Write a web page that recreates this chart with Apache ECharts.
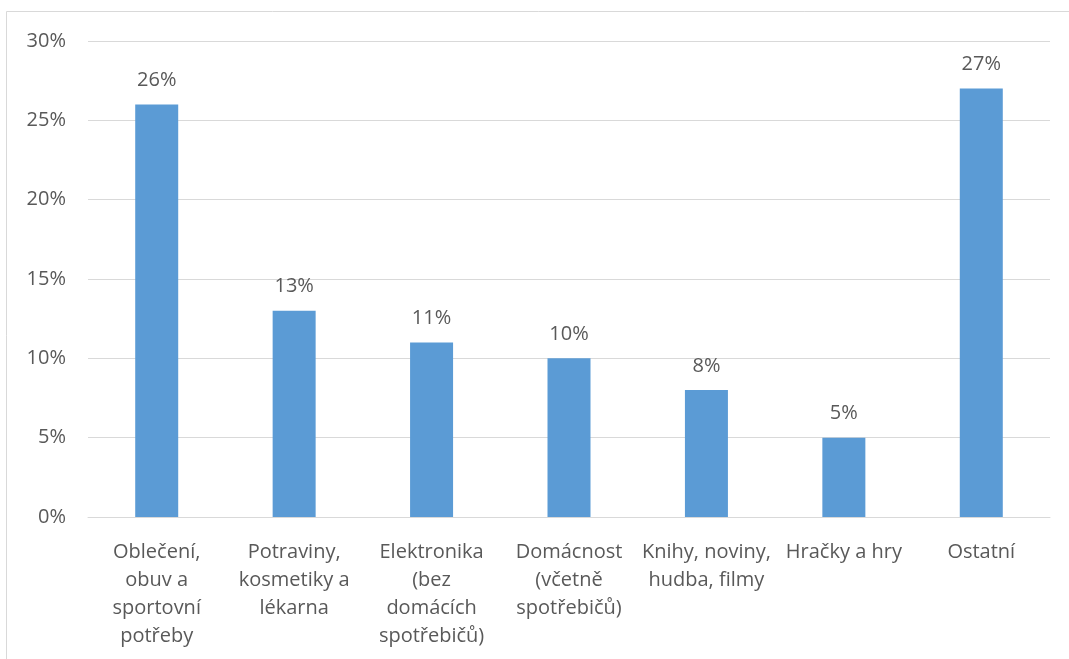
<!DOCTYPE html>
<html>
<head>
<meta charset="utf-8">
<script src="https://cdn.jsdelivr.net/npm/echarts@6/dist/echarts.min.js"></script>
<style>
  html, body { margin: 0; padding: 0; background: #fff; }
  #chart { width: 1069px; height: 659px; }
</style>
</head>
<body>
<div id="chart"></div>
<script>
// Shopping categories (line breaks as drawn under each bar)
const categories = [
  'Oblečení,\nobuv a\nsportovní\npotřeby',
  'Potraviny,\nkosmetiky a\nlékarna',
  'Elektronika\n(bez\ndomácích\nspotřebičů)',
  'Domácnost\n(včetně\nspotřebičů)',
  'Knihy, noviny,\nhudba, filmy',
  'Hračky a hry',
  'Ostatní'
];
// Share of purchases, percent
const shares = [26, 13, 11, 10, 8, 5, 27];

const textColor = '#595959';
const fontFamily = '"Open Sans", "Noto Sans", sans-serif';
const fontSize = 20;

const chart = echarts.init(document.getElementById('chart'), null, { renderer: 'canvas' });
chart.setOption({
  animation: false,
  backgroundColor: '#ffffff',
  textStyle: { fontFamily: fontFamily },
  graphic: [{
    type: 'rect',
    shape: { x: 6.5, y: 11.5, width: 1200, height: 800 },
    style: { fill: 'none', stroke: '#d9d9d9', lineWidth: 1 },
    silent: true
  }],
  grid: { left: 88, right: 19, top: 41, bottom: 142 },
  xAxis: {
    type: 'category',
    data: categories,
    axisLine: { lineStyle: { color: '#d9d9d9', width: 1 } },
    axisTick: { show: false },
    axisLabel: {
      color: textColor,
      fontSize: fontSize,
      fontFamily: fontFamily,
      lineHeight: 28,
      margin: 21,
      interval: 0
    }
  },
  yAxis: {
    type: 'value',
    min: 0,
    max: 30,
    interval: 5,
    axisLine: { show: false },
    axisTick: { show: false },
    splitLine: { lineStyle: { color: '#d9d9d9', width: 1 } },
    axisLabel: {
      color: textColor,
      fontSize: fontSize,
      fontFamily: fontFamily,
      margin: 22,
      formatter: '{value}%'
    }
  },
  series: [{
    type: 'bar',
    data: shares,
    barWidth: 43,
    itemStyle: { color: '#5b9bd5' },
    label: {
      show: true,
      position: 'top',
      distance: 14,
      color: textColor,
      fontSize: fontSize,
      fontFamily: fontFamily,
      formatter: '{c}%'
    }
  }]
});
</script>
</body>
</html>
